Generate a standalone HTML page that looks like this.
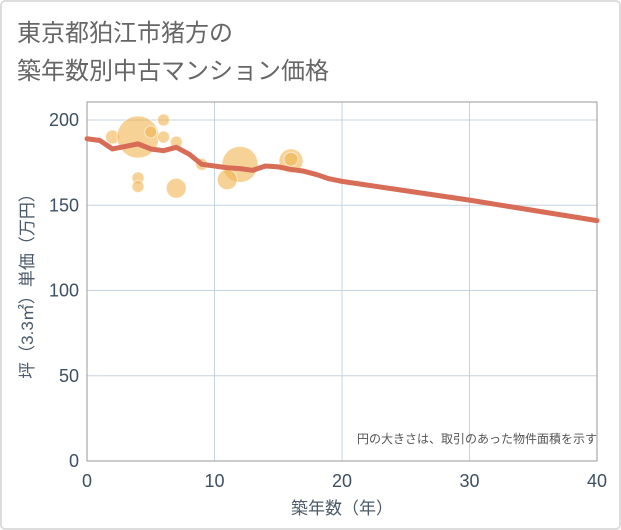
<!DOCTYPE html>
<html><head><meta charset="utf-8"><style>
body{margin:0;background:#fff}
svg{display:block;font-family:"Liberation Sans","Noto Sans CJK JP",sans-serif}
</style></head><body>
<svg width="621" height="530" viewBox="0 0 621 530">
<rect x="1" y="1" width="619" height="528" rx="4" fill="#fff" stroke="#ddd" stroke-width="2"/>
<text x="17" y="41" font-size="24" fill="#666">東京都狛江市猪方の</text>
<text x="17" y="79" font-size="24" fill="#666">築年数別中古マンション価格</text>
<g id="grid"></g>
<rect x="87" y="102" width="510" height="359" fill="none" stroke="#999" stroke-width="1"/>
<g id="bubbles"></g>
<g id="line"></g>
<g id="axes"></g>
<text x="597" y="443" font-size="12" fill="#555" text-anchor="end">円の大きさは、取引のあった物件面積を示す</text>
<text x="342" y="514" font-size="17" fill="#4a5a6a" text-anchor="middle">築年数（年）</text>
<text transform="translate(33,282) rotate(-90)" font-size="17" fill="#4a5a6a" text-anchor="middle">坪（3.3㎡）単価（万円）</text>
</svg>
<script>
const xTicks=[0,10,20,30,40];
const yTicks=[0,50,100,150,200];
const lineYears=[0,1,2,3,4,5,6,7,8,9,10,11,12,13,14,15,16,17,18,19,20,25,30,35,40];
const linePrices=[189,188,183,184.5,186,183,182,184,180,174,173,172,171.5,170.5,173,172.5,171,170,168,165.5,164,158.5,153,147,141];
const bubbleYears=[2,4,5,6,6,7,4,4,7,9,12,11,16,16];
const bubblePrices=[190,190,193,200,190,187,166,161,160,174,174,165,176,177];
const bubbleSizes=[7,21,6,6,6,6,6,6,10,6,18,10,12,7];
const NS="http://www.w3.org/2000/svg";
const X0=87,X1=597,Y0=461,Y1=120;
function sx(v){return X0+(v-0)/40*(X1-X0);}
function sy(v){return Y0-(v/200)*(Y0-Y1);}
function mk(t,a,p){const e=document.createElementNS(NS,t);for(const k in a)e.setAttribute(k,a[k]);p.appendChild(e);return e;}
const grid=document.getElementById('grid'),axes=document.getElementById('axes');
xTicks.forEach(t=>{
 const l=mk('line',{x1:sx(t),x2:sx(t),y1:102,y2:461,stroke:'#c5d3e0','stroke-width':1},grid);
 
 
 const tx=mk('text',{x:sx(t),y:487,'font-size':18,fill:'#3d4f62','text-anchor':'middle'},axes);
 tx.textContent=t;
 
 
});
yTicks.forEach(t=>{
 const l=mk('line',{x1:87,x2:597,y1:sy(t),y2:sy(t),stroke:'#c5d3e0','stroke-width':1},grid);
 
 
 const tx=mk('text',{x:79,y:sy(t)+6,'font-size':18,fill:'#3d4f62','text-anchor':'end'},axes);
 tx.textContent=t;
 
 
});
const bg=document.getElementById('bubbles');
bubbleYears.forEach((y,i)=>{
 const c=mk('circle',{cx:sx(y),cy:sy(bubblePrices[i]),r:bubbleSizes[i],fill:'rgba(240,180,80,0.6)',stroke:'rgba(255,255,255,0.6)','stroke-width':1},bg);
 
 
});
const pts=lineYears.map((y,i)=>sx(y)+','+sy(linePrices[i])).join(' ');
const pl=mk('polyline',{points:pts,fill:'none',stroke:'#d86d57','stroke-width':5,'stroke-linejoin':'round','stroke-linecap':'round'},document.getElementById('line'));


</script>
</body></html>
